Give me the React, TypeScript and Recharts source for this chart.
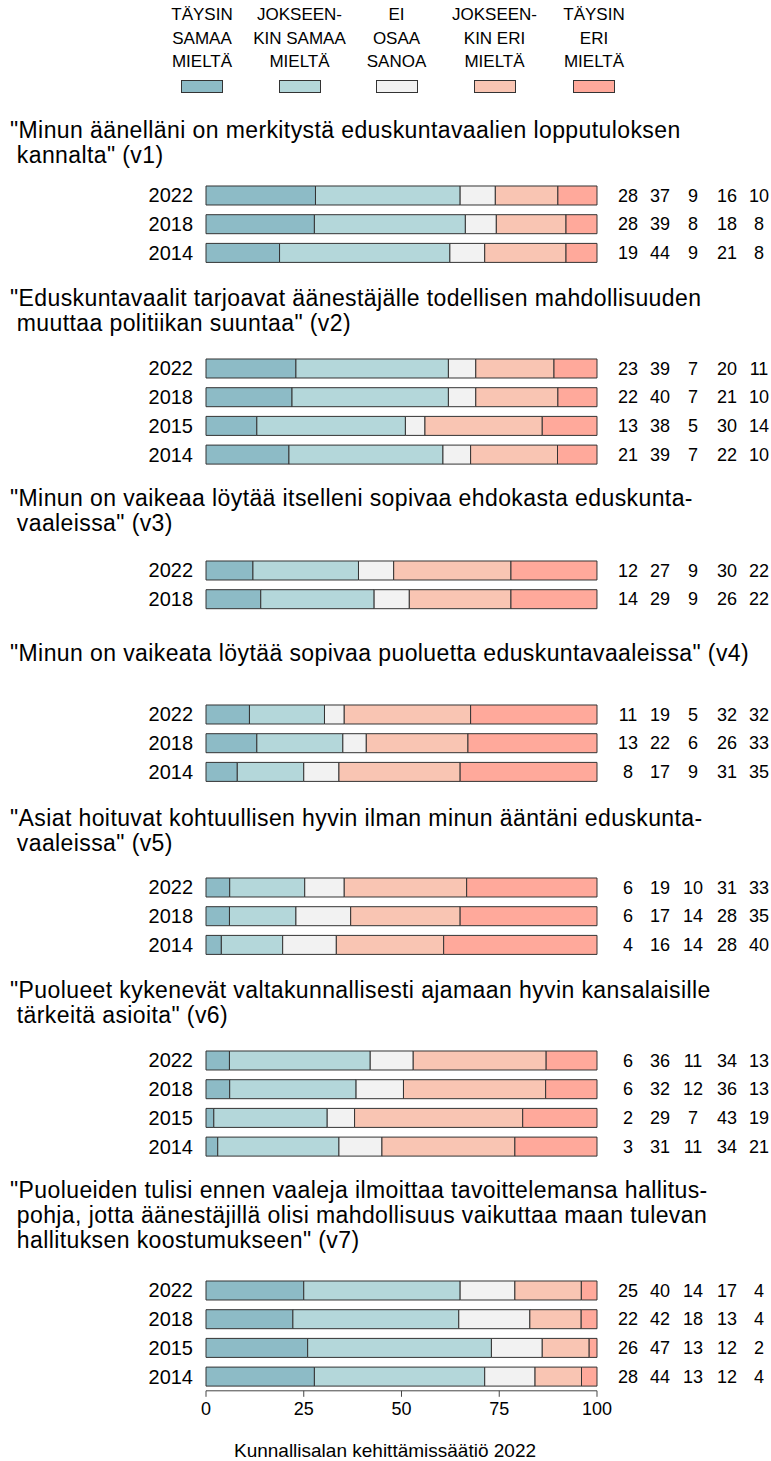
import React from 'react';
import { BarChart, Bar, XAxis, YAxis } from 'recharts';

// legend / answer categories
const categoryLines = [
  ['TÄYSIN', 'SAMAA', 'MIELTÄ'],
  ['JOKSEEN-', 'KIN SAMAA', 'MIELTÄ'],
  ['EI', 'OSAA', 'SANOA'],
  ['JOKSEEN-', 'KIN ERI', 'MIELTÄ'],
  ['TÄYSIN', 'ERI', 'MIELTÄ'],
];
const seriesKeys = ['s1', 's2', 's3', 's4', 's5'];

const v1Title = ['"Minun äänelläni on merkitystä eduskuntavaalien lopputuloksen', ' kannalta" (v1)'];
const v1Years = ['2022', '2018', '2014'];
const v1Values = [[28, 37, 9, 16, 10], [28, 39, 8, 18, 8], [19, 44, 9, 21, 8]];

const v2Title = ['"Eduskuntavaalit tarjoavat äänestäjälle todellisen mahdollisuuden', ' muuttaa politiikan suuntaa" (v2)'];
const v2Years = ['2022', '2018', '2015', '2014'];
const v2Values = [[23, 39, 7, 20, 11], [22, 40, 7, 21, 10], [13, 38, 5, 30, 14], [21, 39, 7, 22, 10]];

const v3Title = ['"Minun on vaikeaa löytää itselleni sopivaa ehdokasta eduskunta-', ' vaaleissa" (v3)'];
const v3Years = ['2022', '2018'];
const v3Values = [[12, 27, 9, 30, 22], [14, 29, 9, 26, 22]];

const v4Title = ['"Minun on vaikeata löytää sopivaa puoluetta eduskuntavaaleissa" (v4)'];
const v4Years = ['2022', '2018', '2014'];
const v4Values = [[11, 19, 5, 32, 32], [13, 22, 6, 26, 33], [8, 17, 9, 31, 35]];

const v5Title = ['"Asiat hoituvat kohtuullisen hyvin ilman minun ääntäni eduskunta-', ' vaaleissa" (v5)'];
const v5Years = ['2022', '2018', '2014'];
const v5Values = [[6, 19, 10, 31, 33], [6, 17, 14, 28, 35], [4, 16, 14, 28, 40]];

const v6Title = ['"Puolueet kykenevät valtakunnallisesti ajamaan hyvin kansalaisille', ' tärkeitä asioita" (v6)'];
const v6Years = ['2022', '2018', '2015', '2014'];
const v6Values = [[6, 36, 11, 34, 13], [6, 32, 12, 36, 13], [2, 29, 7, 43, 19], [3, 31, 11, 34, 21]];

const v7Title = [
  '"Puolueiden tulisi ennen vaaleja ilmoittaa tavoittelemansa hallitus-',
  ' pohja, jotta äänestäjillä olisi mahdollisuus vaikuttaa maan tulevan',
  ' hallituksen koostumukseen" (v7)',
];
const v7Years = ['2022', '2018', '2015', '2014'];
const v7Values = [[25, 40, 14, 17, 4], [22, 42, 18, 13, 4], [26, 47, 13, 12, 2], [28, 44, 13, 12, 4]];

const axisTicks = [0, 25, 50, 75, 100];
const footer = 'Kunnallisalan kehittämissäätiö 2022';

const groups = [
  { title: v1Title, years: v1Years, values: v1Values },
  { title: v2Title, years: v2Years, values: v2Values },
  { title: v3Title, years: v3Years, values: v3Values },
  { title: v4Title, years: v4Years, values: v4Values },
  { title: v5Title, years: v5Years, values: v5Values },
  { title: v6Title, years: v6Years, values: v6Values },
  { title: v7Title, years: v7Years, values: v7Values },
];

// layout (pixels)
const FONT = '"Liberation Sans", Arial, Helvetica, sans-serif';
const COLORS = ['#8dbbc6', '#b4d7da', '#f2f2f2', '#f9c5b3', '#ffa99b'];
const ROW = 28.7;
const PLOT_LEFT = 206;
const PLOT_RIGHT = 597;
const W = 771;
const firstRowCenters = [195, 368.5, 570, 714, 887, 1060, 1290];
const titleLineCenters = [[130, 155], [298, 323], [498, 523], [653], [818, 843], [990, 1015], [1190, 1215, 1240]];
const legendCenters = [202, 299.5, 396.5, 494.5, 594];
const valueOffsets = [31, 63, 96, 130, 162];

function buildRows(years: string[], values: number[][]) {
  return years.map((year, i) => {
    const vals = values[i];
    const sum = vals.reduce((a, b) => a + b, 0);
    const row: any = { year };
    vals.forEach((v, j) => {
      row[seriesKeys[j]] = (v / sum) * 100;
    });
    return row;
  });
}

function GroupChart({ years, values, showAxis }: { years: string[]; values: number[][]; showAxis: boolean }) {
  const data = buildRows(years, values);
  const axisH = showAxis ? 40 : 0;
  const ValueTick = (props: any) => {
    const { x, y, payload } = props;
    const idx = years.indexOf(payload.value);
    const vals = values[idx] || [];
    return (
      <g>
        {vals.map((v, i) => (
          <text key={i} x={x + valueOffsets[i]} y={y} dy="0.35em" textAnchor="middle" fontSize={18} fill="#000">
            {v}
          </text>
        ))}
      </g>
    );
  };
  return (
    <BarChart
      width={W}
      height={years.length * ROW + axisH}
      data={data}
      layout="vertical"
      margin={{ top: 0, right: 0, bottom: 0, left: 0 }}
    >
      <XAxis
        type="number"
        domain={[0, 100]}
        ticks={axisTicks}
        hide={!showAxis}
        height={axisH || 1}
        stroke="#444"
        tickSize={6}
        tickMargin={5}
        tick={{ fill: '#000', fontSize: 18 }}
        interval={0}
      />
      <YAxis
        yAxisId="left"
        type="category"
        dataKey="year"
        width={PLOT_LEFT}
        axisLine={false}
        tickLine={false}
        tickSize={0}
        tickMargin={13}
        tick={{ fill: '#000', fontSize: 20 }}
        interval={0}
      />
      <YAxis
        yAxisId="right"
        orientation="right"
        type="category"
        dataKey="year"
        width={W - PLOT_RIGHT}
        axisLine={false}
        tickLine={false}
        tickSize={0}
        tickMargin={0}
        tick={ValueTick}
        interval={0}
      />
      {seriesKeys.map((k, i) => (
        <Bar
          key={k}
          yAxisId="left"
          dataKey={k}
          stackId="a"
          fill={COLORS[i]}
          stroke="#333"
          strokeWidth={1}
          barSize={19}
          isAnimationActive={false}
        />
      ))}
    </BarChart>
  );
}

export default function App() {
  return (
    <div
      style={{
        position: 'absolute',
        left: 0,
        top: 0,
        width: W,
        height: 1461,
        background: '#fff',
        fontFamily: FONT,
        color: '#000',
      }}
    >
      {/* Legend */}
      {categoryLines.map((lines, i) => (
        <React.Fragment key={i}>
          <div
            style={{
              position: 'absolute',
              left: legendCenters[i] - 60,
              top: 15 - 11.75,
              width: 120,
              textAlign: 'center',
              fontSize: 17,
              lineHeight: '23.5px',
              whiteSpace: 'pre',
            }}
          >
            {lines.join('\n')}
          </div>
          <div
            style={{
              position: 'absolute',
              left: legendCenters[i] - 21,
              top: 80,
              width: 42,
              height: 13,
              boxSizing: 'border-box',
              border: '1px solid #333',
              background: COLORS[i],
            }}
          />
        </React.Fragment>
      ))}

      {groups.map((g, gi) => (
        <React.Fragment key={gi}>
          {g.title.map((line, li) => (
            <div
              key={li}
              style={{
                position: 'absolute',
                left: 10,
                top: titleLineCenters[gi][li] - 11.5,
                fontSize: 23,
                lineHeight: '23px',
                letterSpacing: '0.4px',
                whiteSpace: 'pre',
              }}
            >
              {line}
            </div>
          ))}
          <div style={{ position: 'absolute', left: 0, top: firstRowCenters[gi] - ROW / 2 }}>
            <GroupChart years={g.years} values={g.values} showAxis={gi === groups.length - 1} />
          </div>
        </React.Fragment>
      ))}

      <div
        style={{
          position: 'absolute',
          left: 385 - 200,
          width: 400,
          top: 1451 - 11,
          textAlign: 'center',
          fontSize: 19,
          lineHeight: '22px',
        }}
      >
        {footer}
      </div>
    </div>
  );
}
